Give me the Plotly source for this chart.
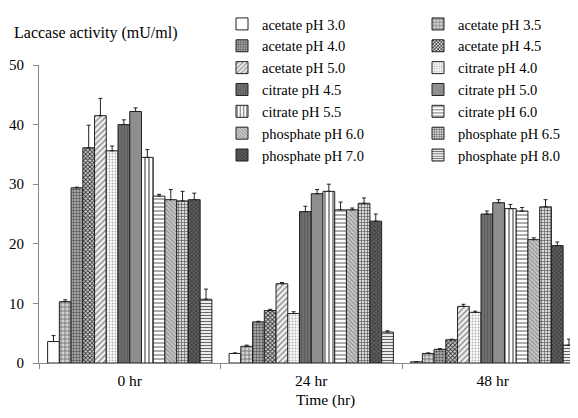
import plotly.graph_objects as go

times = ["0 hr", "24 hr", "48 hr"]
series = ["acetate pH 3.0", "acetate pH 3.5", "acetate pH 4.0", "acetate pH 4.5",
          "acetate pH 5.0", "citrate pH 4.0", "citrate pH 4.5", "citrate pH 5.0",
          "citrate pH 5.5", "citrate pH 6.0", "phosphate pH 6.0", "phosphate pH 6.5",
          "phosphate pH 7.0", "phosphate pH 8.0"]

act_0h = [3.6, 10.3, 29.4, 36.1, 41.5, 35.6, 40.0, 42.2, 34.5, 28.0, 27.4, 27.2, 27.4, 10.7]
err_0h = [1.0, 0.3, 0.1, 3.8, 2.9, 0.8, 0.8, 0.6, 1.3, 0.3, 1.7, 1.6, 1.1, 1.7]
act_24h = [1.6, 2.8, 6.9, 8.8, 13.3, 8.3, 25.4, 28.4, 28.8, 25.7, 25.7, 26.8, 23.8, 5.2]
err_24h = [0.1, 0.2, 0.1, 0.2, 0.2, 0.3, 0.9, 0.7, 1.2, 1.3, 0.3, 0.9, 1.2, 0.2]
act_48h = [0.2, 1.6, 2.3, 3.9, 9.5, 8.5, 25.0, 26.9, 25.9, 25.5, 20.7, 26.2, 19.7, 3.0]
err_48h = [0.0, 0.1, 0.1, 0.1, 0.35, 0.2, 0.5, 0.5, 0.7, 0.6, 0.3, 1.2, 0.6, 1.0]

y_ticks = [0, 10, 20, 30, 40, 50]

# style per series: (background, pattern shape, pattern colour, size, solidity)
styles = [
    ("#ffffff", "", "#000000", 4, 0.3),
    ("#d4d4d4", "+", "#555555", 4, 0.3),
    ("#a8a8a8", ".", "#4a4a4a", 3, 0.4),
    ("#d8d8d8", "x", "#2a2a2a", 3, 0.5),
    ("#f2f2f2", "/", "#888888", 4, 0.35),
    ("#fbfbfb", ".", "#b0b0b0", 3, 0.3),
    ("#6e6e6e", "|", "#5a5a5a", 3, 0.3),
    ("#8e8e8e", "", "#000000", 4, 0.3),
    ("#ffffff", "|", "#6a6a6a", 4, 0.35),
    ("#ffffff", "-", "#8a8a8a", 4, 0.35),
    ("#c8c8c8", "\\", "#8a8a8a", 3, 0.35),
    ("#dadada", "+", "#4a4a4a", 3, 0.35),
    ("#5e5e5e", "x", "#333333", 3, 0.4),
    ("#ececec", "-", "#666666", 3, 0.35),
]

fig = go.Figure()
for i, name in enumerate(series):
    bg, shp, fg, sz, sol = styles[i]
    vals = [act_0h[i], act_24h[i], act_48h[i]]
    errs = [err_0h[i], err_24h[i], err_48h[i]]
    fig.add_trace(go.Bar(
        x=times, y=vals, name=name,
        legend="legend" if i % 2 == 0 else "legend2",
        marker=dict(color=bg, line=dict(color="#222222", width=1),
                    pattern=dict(shape=shp, fgcolor=fg, bgcolor=bg, size=sz,
                                 solidity=sol, fillmode="replace")),
        error_y=dict(type="data", array=errs, arrayminus=[0, 0, 0], symmetric=False,
                     color="#222222", thickness=1, width=2),
    ))

serif = "Liberation Serif"
OFF = 8  # page body margin
W, H = 578 - OFF, 418 - OFF
L, T = 39 - OFF, 65 - OFF
B = H - (363 - OFF)
ph = H - T - B
pw = W - L

def px_x(px):  # screen px -> paper x
    return (px - OFF - L) / pw

def px_y(py):  # screen px -> paper y
    return 1 + (T - (py - OFF)) / ph

legend_style = dict(font=dict(family=serif, size=14.5, color="#000000"),
                    bgcolor="rgba(0,0,0,0)", borderwidth=0,
                    xref="container", yref="container",
                    xanchor="left", yanchor="top", orientation="v",
                    itemclick=False, itemdoubleclick=False)

fig.update_layout(
    width=W, height=H,
    margin=dict(l=L, r=0, t=T, b=B, autoexpand=False),
    paper_bgcolor="#ffffff", plot_bgcolor="#ffffff",
    barmode="group", bargap=0.095, bargroupgap=0,
    font=dict(family=serif, size=15, color="#000000"),
    showlegend=True,
    legend=dict(x=(222 - OFF) / W, y=1, **legend_style),
    legend2=dict(x=(418 - OFF) / W, y=1, **legend_style),
    xaxis=dict(range=[-0.5, -0.5 + pw / 181.5], type="category",
               tickson="boundaries", ticks="outside", ticklen=5, tickcolor="#888888",
               showline=True, linecolor="#888888", linewidth=1,
               showgrid=False, zeroline=False, ticklabelstandoff=3,
               tickfont=dict(family=serif, size=15.5, color="#000000")),
    yaxis=dict(range=[0, 50], tickvals=y_ticks, ticks="outside", ticklen=5,
               tickcolor="#888888", showline=True, linecolor="#888888", linewidth=1,
               showgrid=False, zeroline=False, ticklabelstandoff=6,
               tickfont=dict(family=serif, size=15, color="#000000")),
    annotations=[
        dict(text="Laccase activity (mU/ml)", xref="paper", yref="paper",
             x=px_x(12), y=px_y(33), xanchor="left", yanchor="middle",
             showarrow=False, font=dict(family=serif, size=16, color="#000000")),
        dict(text="Time (hr)", xref="paper", yref="paper",
             x=px_x(325), y=px_y(400), xanchor="center", yanchor="middle",
             showarrow=False, font=dict(family=serif, size=15.5, color="#000000")),
    ],
)

fig.write_html("out.html")
